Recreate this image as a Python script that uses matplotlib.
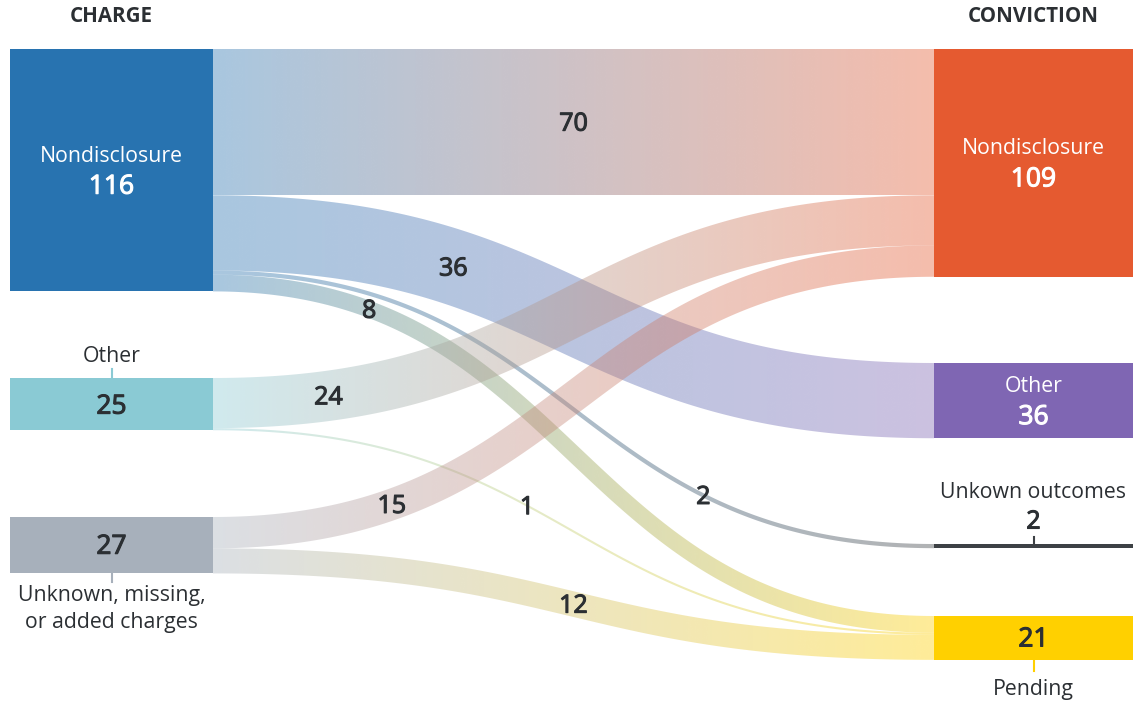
import numpy as np
import matplotlib
matplotlib.use("Agg")
import matplotlib.pyplot as plt
import matplotlib.patheffects as pe
from matplotlib.colors import to_rgb
from matplotlib.path import Path
from matplotlib.patches import PathPatch, Rectangle

plt.rcParams['font.family'] = ['Open Sans', 'DejaVu Sans']

# charges (left) and convictions (right)
charge_names = ["Nondisclosure", "Other", "Unknown, missing,\nor added charges"]
conviction_names = ["Nondisclosure", "Other", "Unkown outcomes", "Pending"]

# links: charge index -> conviction index, number of cases
flow_src = [0, 0, 0, 0, 1, 1, 2, 2]
flow_tgt = [0, 1, 2, 3, 0, 3, 0, 3]
flow_val = [70, 36, 2, 8, 24, 1, 15, 12]

charge_colors = ["#2873b0", "#8acad4", "#a7b0bb"]
conviction_colors = ["#e55a30", "#7f66b3", "#3d4145", "#ffd000"]
TEXT = "#2b2f33"

# layout in pixels
W, H = 1134, 704
K = 242.4 / 116          # px per case
LX0, LX1 = 10, 213
RX0, RX1 = 934, 1133
charge_top = [49, 378, 517]
conviction_top = [49, 363, 544, 616]
label_t = [0.5, 0.29, 0.725, 0.17, 0.12, 0.415, 0.2, 0.5]

NAME_FS = 15.3
VALUE_FS = 19
FLOW_FS = 18


def heavy(color):
    # regular face thickened a little, reads as semibold
    return [pe.Stroke(linewidth=0.8, foreground=color), pe.Normal()]


charge_tot = [sum(v for s, v in zip(flow_src, flow_val) if s == i) for i in range(3)]
conv_tot = [sum(v for t, v in zip(flow_tgt, flow_val) if t == i) for i in range(4)]

fig = plt.figure(figsize=(W / 100, H / 100), dpi=100)
ax = fig.add_axes([0, 0, 1, 1])
ax.set_axis_off()


def bezier(y0, y1, t):
    dx = RX0 - LX1
    x = LX1 + dx * (1.5 * t * (1 - t) + t ** 3)
    y = y0 + (y1 - y0) * (3 * t ** 2 - 2 * t ** 3)
    ddx = dx * (1.5 - 3 * t + 3 * t ** 2)
    ddy = (y1 - y0) * (6 * t - 6 * t ** 2)
    return x, y, ddx, ddy


src_off = list(charge_top)
tgt_off = list(conviction_top)
labels = []
for i, (s, t, v) in enumerate(zip(flow_src, flow_tgt, flow_val)):
    w = v * K
    y0 = src_off[s] + w / 2
    y1 = tgt_off[t] + w / 2
    src_off[s] += w
    tgt_off[t] += w

    # band of constant width around the link centre line
    tt = np.linspace(0, 1, 300)
    x, y, dx, dy = bezier(y0, y1, tt)
    n = np.hypot(dx, dy)
    nx, ny = -dy / n, dx / n
    top = np.column_stack([x + nx * w / 2, y + ny * w / 2])
    bot = np.column_stack([x - nx * w / 2, y - ny * w / 2])
    verts = np.vstack([top, bot[::-1], top[:1]])
    codes = [Path.MOVETO] + [Path.LINETO] * (len(verts) - 2) + [Path.CLOSEPOLY]
    patch = PathPatch(Path(verts, codes), transform=ax.transData,
                      facecolor="none", edgecolor="none")
    ax.add_patch(patch)

    # horizontal gradient from charge colour to conviction colour
    c0 = np.array(to_rgb(charge_colors[s]))
    c1 = np.array(to_rgb(conviction_colors[t]))
    f = np.linspace(0, 1, 256)[:, None]
    grad = np.ones((1, 256, 4))
    grad[0, :, :3] = c0 * (1 - f) + c1 * f
    grad[0, :, 3] = 0.4
    ymin, ymax = verts[:, 1].min() - 2, verts[:, 1].max() + 2
    im = ax.imshow(grad, extent=(LX1, RX0, ymax, ymin), aspect="auto",
                   interpolation="bilinear", zorder=1)
    im.set_clip_path(patch)

    lx, ly, _, _ = bezier(y0, y1, label_t[i])
    labels.append((lx, ly, v))

for lx, ly, v in labels:
    ax.text(lx, ly + 2, str(v), ha="center", va="center", fontsize=FLOW_FS,
            color=TEXT, zorder=5, path_effects=heavy(TEXT))

# nodes
for i in range(3):
    h = charge_tot[i] * K
    ax.add_patch(Rectangle((LX0, charge_top[i]), LX1 - LX0, h,
                           facecolor=charge_colors[i], edgecolor="none", zorder=3))
for i in range(4):
    h = conv_tot[i] * K
    ax.add_patch(Rectangle((RX0, conviction_top[i]), RX1 - RX0, h,
                           facecolor=conviction_colors[i], edgecolor="none", zorder=3))

lc = (LX0 + LX1) / 2
rc = (RX0 + RX1) / 2

ax.text(lc, 17, "CHARGE", ha="center", va="center", fontsize=14.8,
        fontweight="bold", color=TEXT)
ax.text(rc, 17, "CONVICTION", ha="center", va="center", fontsize=14.8,
        fontweight="bold", color=TEXT)

# Nondisclosure charge: white text inside
cy = charge_top[0] + charge_tot[0] * K / 2
ax.text(lc, cy - 14, charge_names[0], ha="center", va="center", fontsize=NAME_FS,
        color="white", zorder=4)
ax.text(lc, cy + 17, str(charge_tot[0]), ha="center", va="center", fontsize=VALUE_FS,
        color="white", zorder=4, path_effects=heavy("white"))

# Other charge: name above with a tick
cy = charge_top[1] + charge_tot[1] * K / 2
ax.text(lc, cy + 3, str(charge_tot[1]), ha="center", va="center", fontsize=VALUE_FS,
        color=TEXT, zorder=4, path_effects=heavy(TEXT))
ax.plot([lc, lc], [charge_top[1] - 9, charge_top[1]], color=charge_colors[1], lw=1.5)
ax.text(lc, charge_top[1] - 22, charge_names[1], ha="center", va="center",
        fontsize=NAME_FS, color=TEXT)

# Unknown charge: name below with a tick
cy = charge_top[2] + charge_tot[2] * K / 2
bottom = charge_top[2] + charge_tot[2] * K
ax.text(lc, cy + 2, str(charge_tot[2]), ha="center", va="center", fontsize=VALUE_FS,
        color=TEXT, zorder=4, path_effects=heavy(TEXT))
ax.plot([lc, lc], [bottom, bottom + 9], color=charge_colors[2], lw=1.5)
ax.text(lc, bottom + 12, charge_names[2], ha="center", va="top", fontsize=NAME_FS,
        color=TEXT, linespacing=1.35)

# convictions
for i in (0, 1):
    cy = conviction_top[i] + conv_tot[i] * K / 2
    ax.text(rc, cy - 14, conviction_names[i], ha="center", va="center",
            fontsize=NAME_FS, color="white", zorder=4)
    ax.text(rc, cy + 17, str(conv_tot[i]), ha="center", va="center",
            fontsize=VALUE_FS, color="white", zorder=4,
            path_effects=heavy("white"))

top2 = conviction_top[2]
ax.plot([rc, rc], [top2 - 7, top2], color=conviction_colors[2], lw=1.5)
ax.text(rc, top2 - 22, str(conv_tot[2]), ha="center", va="center", fontsize=18,
        color=TEXT, path_effects=heavy(TEXT))
ax.text(rc, top2 - 52, conviction_names[2], ha="center", va="center",
        fontsize=NAME_FS, color=TEXT)

cy = conviction_top[3] + conv_tot[3] * K / 2
bottom = conviction_top[3] + conv_tot[3] * K
ax.text(rc, cy + 2, str(conv_tot[3]), ha="center", va="center", fontsize=VALUE_FS,
        color=TEXT, zorder=4, path_effects=heavy(TEXT))
ax.plot([rc, rc], [bottom, bottom + 11], color=conviction_colors[3], lw=1.5)
ax.text(rc, bottom + 30, conviction_names[3], ha="center", va="center",
        fontsize=NAME_FS, color=TEXT)

ax.set_xlim(0, W)
ax.set_ylim(H, 0)
fig.savefig("out.png", dpi=100)
